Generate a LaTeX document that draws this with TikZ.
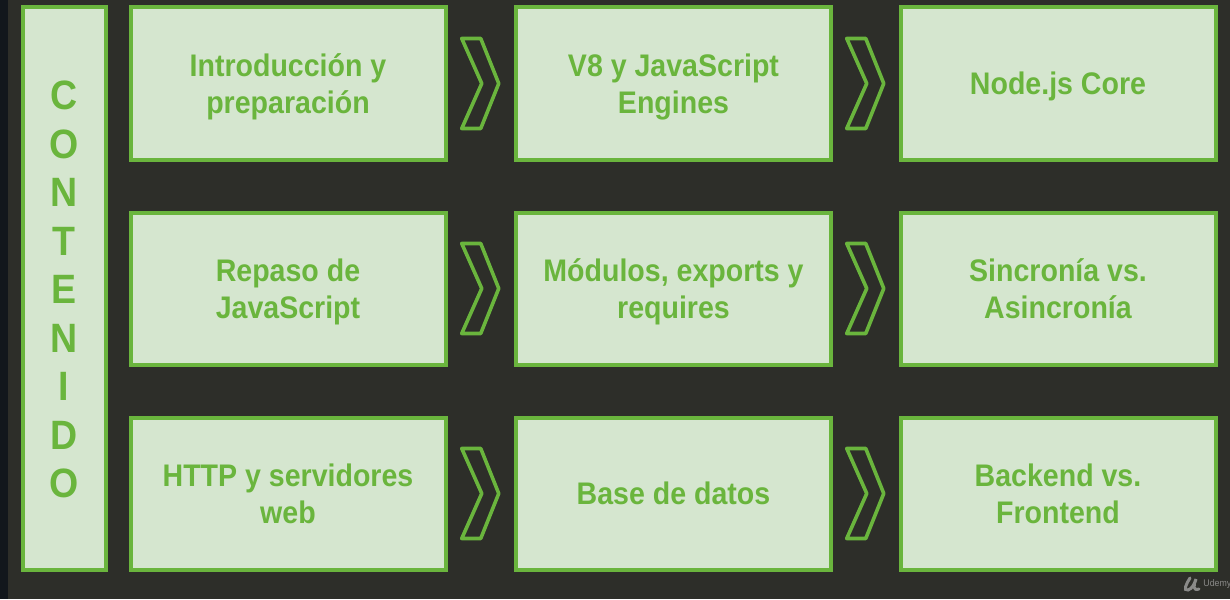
\documentclass[tikz,border=0pt]{standalone}
\usepackage{fontspec}
\setmainfont[FakeStretch=0.915]{Liberation Sans}
\usetikzlibrary{calc}

\definecolor{fondo}{HTML}{2D2E29}
\definecolor{franja}{HTML}{12171C}
\definecolor{verde}{HTML}{6AB53D}
\definecolor{verdeclaro}{HTML}{D5E6CF}
\definecolor{marca}{HTML}{8A8A88}

\tikzset{
  caja/.style={draw=verde,fill=verdeclaro,line width=2pt,text=verde,align=center,
    minimum width=157.5pt,minimum height=76pt,inner sep=0pt,
    text height=15.1pt,text depth=4pt,
    font=\fontsize{15.6}{18.5}\selectfont\bfseries},
  doble/.style={caja,text height=33.8pt,text depth=4pt},
  titulo/.style={draw=verde,fill=verdeclaro,line width=2pt,text=verde,align=center,
    minimum width=41.5pt,minimum height=281pt,inner sep=0pt,
    text height=209.2pt,text depth=0pt,
    font=\fontsize{20.5}{24.25}\selectfont\bfseries},
  flecha/.pic={
    \draw[verde,line width=1.8pt,line join=round]
      (-19,-45)--(0,-45)--(18,0)--(0,45)--(-19,45)--(1,0)--cycle;
  }
}

\begin{document}
\begin{tikzpicture}[x=0.5pt,y=-0.5pt]
\useasboundingbox (0,0) rectangle (1230,599);
\fill[fondo] (0,0) rectangle (1230,599);
\fill[franja] (0,0) rectangle (8,599);

\node[titulo] (contenido) at (64,288.5) {C\\O\\N\\T\\E\\N\\I\\D\\O};

\node[doble] (intro) at (288,83.5) {Introducción y\\preparación};
\node[doble] (motores) at (673.5,83.5) {V8 y JavaScript\\Engines};
\node[caja] (core) at (1058,83.5) {Node.js Core};

\node[doble] (repaso) at (288,288.5) {Repaso de\\JavaScript};
\node[doble] (modulos) at (673.5,288.5) {Módulos, exports y\\requires};
\node[doble] (sincronia) at (1058,288.5) {Sincronía vs.\\Asincronía};

\node[doble] (http) at (288,493.5) {HTTP y servidores\\web};
\node[caja] (datos) at (673.5,493.5) {Base de datos};
\node[doble] (backend) at (1058,493.5) {Backend vs.\\Frontend};

\pic at ($(intro)!.5!(motores)$) {flecha};
\pic at ($(motores)!.5!(core)$) {flecha};
\pic at ($(repaso)!.5!(modulos)$) {flecha};
\pic at ($(modulos)!.5!(sincronia)$) {flecha};
\pic at ($(http)!.5!(datos)$) {flecha};
\pic at ($(datos)!.5!(backend)$) {flecha};

% marca de agua
\draw[marca,line width=1.5pt,line cap=round]
  (1190,578) .. controls (1186,584) and (1183,591) .. (1188,590)
  .. controls (1192,589) and (1195,583) .. (1196,579)
  .. controls (1193,586) and (1193,591) .. (1199,589);
\node[text=marca,inner sep=0pt,anchor=west,font=\fontsize{4.8}{5}\selectfont] (udemy) at (1203,584.5) {Udemy};
\end{tikzpicture}
\end{document}
